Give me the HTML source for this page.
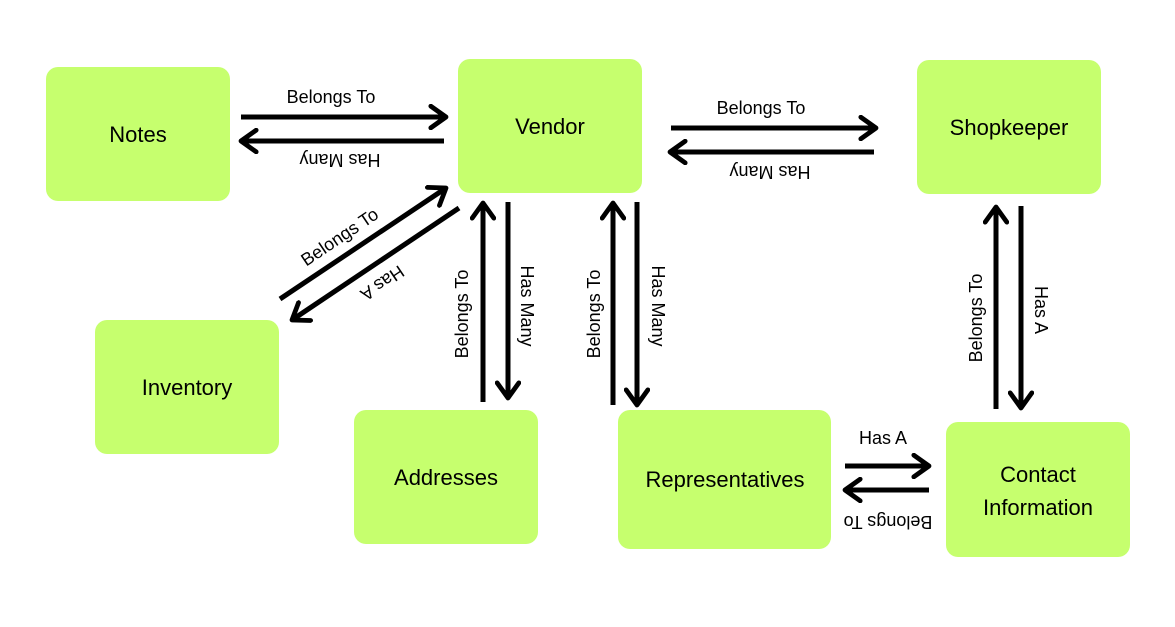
<!DOCTYPE html>
<html><head><meta charset="utf-8"><style>
html,body{margin:0;padding:0;background:#fff;}
svg{display:block;}
text{font-family:"Liberation Sans",sans-serif;fill:#000;}
.b{font-size:22px;}
.l{font-size:18px;}
</style></head><body>
<svg width="1175" height="627" viewBox="0 0 1175 627">
<defs>
<marker id="a" viewBox="0 0 12 12" refX="9" refY="6" markerWidth="5.2" markerHeight="5.2" markerUnits="strokeWidth" orient="auto">
<path d="M2,1 L9,6 L2,11" fill="none" stroke="#000" stroke-width="2.2" stroke-linecap="round" stroke-linejoin="round"/>
</marker>
</defs>
<g fill="#c6ff6e">
<rect x="46" y="67" width="184" height="134" rx="12"/>
<rect x="458" y="59" width="184" height="134" rx="12"/>
<rect x="917" y="60" width="184" height="134" rx="12"/>
<rect x="95" y="320" width="184" height="134" rx="12"/>
<rect x="354" y="410" width="184" height="134" rx="12"/>
<rect x="618" y="410" width="213" height="139" rx="12"/>
<rect x="946" y="422" width="184" height="135" rx="12"/>
</g>
<g class="b" text-anchor="middle">
<text x="138" y="142">Notes</text>
<text x="550" y="134">Vendor</text>
<text x="1009" y="135">Shopkeeper</text>
<text x="187" y="395">Inventory</text>
<text x="446" y="485">Addresses</text>
<text x="725" y="487">Representatives</text>
<text x="1038" y="482">Contact</text>
<text x="1038" y="515">Information</text>
</g>
<g stroke="#000" stroke-width="5" fill="none" marker-end="url(#a)">
<line x1="241" y1="117" x2="446" y2="117"/>
<line x1="444" y1="141" x2="241" y2="141"/>
<line x1="671" y1="128" x2="876" y2="128"/>
<line x1="874" y1="152" x2="670" y2="152"/>
<line x1="280" y1="299" x2="446" y2="188"/>
<line x1="459" y1="208" x2="292" y2="320"/>
<line x1="483" y1="402" x2="483" y2="203"/>
<line x1="508" y1="202" x2="508" y2="398"/>
<line x1="613" y1="405" x2="613" y2="203"/>
<line x1="637" y1="202" x2="637" y2="405"/>
<line x1="996" y1="409" x2="996" y2="207"/>
<line x1="1021" y1="206" x2="1021" y2="408"/>
<line x1="845" y1="466" x2="929" y2="466"/>
<line x1="929" y1="490" x2="845" y2="490"/>
</g>
<g class="l" text-anchor="middle">
<text x="331" y="103">Belongs To</text>
<text transform="translate(340,154) rotate(180)">Has Many</text>
<text x="761" y="114">Belongs To</text>
<text transform="translate(770,166) rotate(180)">Has Many</text>
<text transform="translate(343,242) rotate(-34)">Belongs To</text>
<text transform="translate(379,278) rotate(146)">Has A</text>
<text transform="translate(468,314) rotate(-90)">Belongs To</text>
<text transform="translate(521,306) rotate(90)">Has Many</text>
<text transform="translate(600,314) rotate(-90)">Belongs To</text>
<text transform="translate(652,306) rotate(90)">Has Many</text>
<text transform="translate(982,318) rotate(-90)">Belongs To</text>
<text transform="translate(1035,310) rotate(90)">Has A</text>
<text x="883" y="444">Has A</text>
<text transform="translate(888,516) rotate(180)">Belongs To</text>
</g>
</svg>
</body></html>
